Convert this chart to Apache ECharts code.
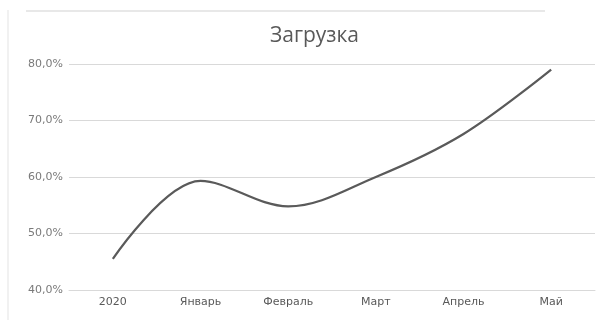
<!DOCTYPE html>
<html>
<head>
<meta charset="utf-8">
<script src="https://cdn.jsdelivr.net/npm/echarts@6/dist/echarts.min.js"></script>
<style>
html,body{margin:0;padding:0;background:#fff;}
#chart{width:604px;height:320px;}
</style>
</head>
<body>
<div id="chart"></div>
<script>
const categories = ['2020', 'Январь', 'Февраль', 'Март', 'Апрель', 'Май'];
const loadValues = [45.5, 59.3, 54.8, 60.0, 67.6, 79.0];
const yTicks = [40, 50, 60, 70, 80];
const titleText = 'Загрузка';

const chart = echarts.init(document.getElementById('chart'), null, {renderer: 'canvas'});
chart.setOption({
  backgroundColor: '#ffffff',
  animation: false,
  title: {
    text: titleText,
    left: 265,
    top: 21,
    textStyle: {fontFamily: 'Open Sans', fontSize: 21, fontWeight: 'normal', color: '#595959'}
  },
  graphic: [
    {type: 'line', shape: {x1: 26, y1: 11, x2: 545, y2: 11}, style: {stroke: '#e8e8e8', lineWidth: 2}, silent: true},
    {type: 'line', shape: {x1: 8, y1: 10, x2: 8, y2: 320}, style: {stroke: '#ececec', lineWidth: 1.5}, silent: true}
  ],
  grid: {left: 69, right: 9, top: 64, bottom: 30, containLabel: false},
  xAxis: {
    type: 'category',
    data: categories,
    boundaryGap: true,
    axisLine: {show: true, lineStyle: {color: '#d9d9d9', width: 1}},
    axisTick: {show: false},
    axisLabel: {color: '#595959', fontFamily: 'DejaVu Sans', fontSize: 11, margin: 7}
  },
  yAxis: {
    type: 'value',
    min: yTicks[0],
    max: yTicks[yTicks.length - 1],
    interval: 10,
    axisLine: {show: false},
    axisTick: {show: false},
    splitLine: {lineStyle: {color: '#d9d9d9', width: 1}},
    axisLabel: {
      color: '#7a7a7a', fontFamily: 'DejaVu Sans', fontSize: 11, margin: 6,
      formatter: v => v.toFixed(1).replace('.', ',') + '%'
    }
  },
  series: [{
    type: 'line',
    data: loadValues,
    smooth: 0.35,
    showSymbol: false,
    lineStyle: {color: '#5a5a5a', width: 2.25}
  }]
});
</script>
</body>
</html>
